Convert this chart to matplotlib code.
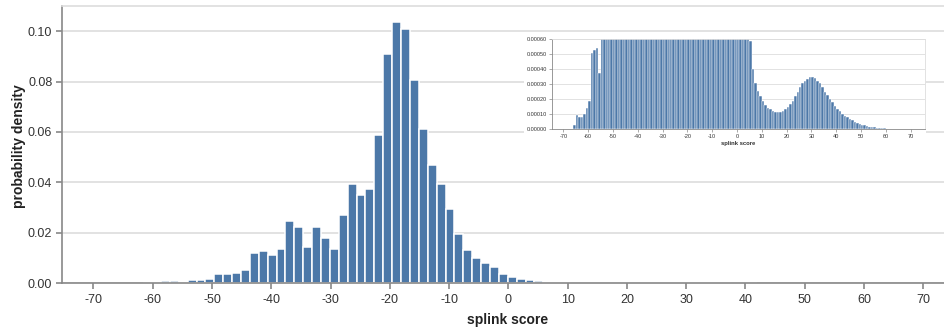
import numpy as np
import matplotlib
matplotlib.use("Agg")
import matplotlib.pyplot as plt
from matplotlib.patches import Rectangle
from matplotlib.ticker import FormatStrFormatter

plt.rcParams['font.family'] = ['Liberation Sans', 'DejaVu Sans']
plt.rcParams['axes.unicode_minus'] = False

# main histogram, bins 1.5 wide starting at -61.6
main_start = -61.6
main_width = 1.5
main_density = [
    0.00012, 0.0003,
    0.0008, 0.0008, 0.0005, 0.001, 0.001, 0.0016, 0.0034, 0.0034, 0.0041, 0.0053,
    0.0119, 0.0127, 0.011, 0.0134, 0.0246, 0.0222, 0.0143, 0.0222, 0.018, 0.0137,
    0.0269, 0.0392, 0.0348, 0.0375, 0.0587, 0.0911, 0.1037, 0.1008, 0.0808, 0.0613,
    0.047, 0.0395, 0.0293, 0.0196, 0.0133, 0.0099, 0.0081, 0.0064, 0.0037, 0.0024,
    0.0017, 0.0011, 0.0008, 0.0004, 0.0003, 0.00022, 0.00017, 0.00014, 0.00012, 0.00011,
    0.00011, 0.00012, 0.00014, 0.00017, 0.00021, 0.00026, 0.0003, 0.00033, 0.00034, 0.00034,
    0.00032, 0.00029, 0.00025, 0.00021, 0.00018, 0.00014, 0.0001,
]

# inset: same scores, 1 wide bins from -66, y axis cut at 0.0006
inset_start = -66
inset_width = 1
inset_density = [
    0.00003, 0.000093, 0.000078, 0.00008, 0.0001, 0.00014, 0.00019, 0.00051, 0.00053, 0.00054, 0.000375,
    # -55 .. 4 (above the cut)
    0.0008, 0.001, 0.001, 0.0011, 0.0015, 0.002, 0.0034, 0.0034, 0.0038, 0.0045,
    0.0055, 0.009, 0.012, 0.0127, 0.0118, 0.011, 0.0134, 0.019, 0.0246, 0.023,
    0.019, 0.0143, 0.02, 0.021, 0.018, 0.0137, 0.02, 0.028, 0.0392, 0.036,
    0.0348, 0.0375, 0.05, 0.0587, 0.085, 0.095, 0.1037, 0.1008, 0.09, 0.0808,
    0.0613, 0.052, 0.047, 0.0395, 0.033, 0.0293, 0.0196, 0.015, 0.0133, 0.0099,
    0.009, 0.0081, 0.0064, 0.0045, 0.0037, 0.0026, 0.002, 0.0015, 0.0011, 0.0008,
    # 5 .. 65
    0.00059, 0.000398, 0.000304, 0.000256, 0.00022, 0.000189, 0.00016, 0.000142, 0.000131, 0.000122,
    0.000116, 0.000113, 0.000116, 0.00012, 0.000131, 0.000144, 0.000167, 0.000189, 0.00022, 0.000249,
    0.000278, 0.000304, 0.000322, 0.000336, 0.000344, 0.000344, 0.000338, 0.000322, 0.000304, 0.000278,
    0.000249, 0.000224, 0.0002, 0.000178, 0.000156, 0.000136, 0.000118, 0.000102, 0.000089, 0.000078,
    0.000067, 0.000058, 0.000049, 0.000042, 0.000036, 0.000029, 0.000024, 0.00002, 0.000016, 0.000013,
    0.000011, 0.000009, 0.000007, 0.000006, 0.000004, 0.000003, 0.000003, 0.000002, 0.000002, 0.000001,
    0.000001,
]

x_ticks = list(range(-70, 71, 10))
main_yticks = [0.00, 0.02, 0.04, 0.06, 0.08, 0.10]
inset_yticks = [0.0, 0.0001, 0.0002, 0.0003, 0.0004, 0.0005, 0.0006]
x_title = 'splink score'
y_title = 'probability density'

BLUE = '#4c78a8'
GRID = '#dddddd'
AXIS = '#888888'
TEXT = '#333333'

W, H = 944, 329
fig = plt.figure(figsize=(W / 100, H / 100), dpi=100)

# ---- main chart
ax = fig.add_axes([62 / W, 1 - 283 / H, 882 / W, 277 / H])
edges = main_start + main_width * np.arange(len(main_density))
ax.bar(edges, main_density, width=main_width, align='edge', color=BLUE,
       edgecolor='white', linewidth=1.1, zorder=2)
ax.set_xlim(-75.3, 73.5)
ax.set_ylim(0, 0.11)
ax.set_xticks(x_ticks)
ax.set_yticks(main_yticks)
ax.yaxis.set_major_formatter(FormatStrFormatter('%.2f'))
ax.set_axisbelow(True)
ax.yaxis.grid(True, color=GRID, linewidth=1.2)
for side in ['left', 'bottom']:
    ax.spines[side].set_color(AXIS)
    ax.spines[side].set_linewidth(1.2)
ax.spines['top'].set_color(GRID)
ax.spines['top'].set_linewidth(1.2)
ax.spines['right'].set_visible(False)
ax.tick_params(direction='out', length=4, width=1.2, color=AXIS,
               labelsize=9, labelcolor=TEXT)
ax.tick_params(axis='x', pad=4)
ax.tick_params(axis='y', pad=3)
fig.text(508 / W, 1 - 320 / H, x_title, ha='center', va='center',
         fontsize=10, fontweight='bold', color='#222222')
fig.text(19 / W, 1 - 146 / H, y_title, ha='center', va='center', rotation=90,
         fontsize=10, fontweight='bold', color='#222222')

# white box behind the inset
ax.add_patch(Rectangle((524 / W, 1 - 152 / H), 402 / W, 118 / H,
                       transform=fig.transFigure, facecolor='white',
                       edgecolor='none', zorder=5, clip_on=False))

# ---- inset
ins = fig.add_axes([551.7 / W, 1 - 129 / H, (925 - 551.7) / W, 90 / H])
ins.set_zorder(6)
ins_edges = inset_start + inset_width * np.arange(len(inset_density))
ins.bar(ins_edges, inset_density, width=inset_width, align='edge', color=BLUE,
        edgecolor='white', linewidth=0.35, zorder=2)
ins.set_xlim(-74.7, 75.8)
ins.set_ylim(0, 0.0006)
ins.set_xticks(x_ticks)
ins.set_yticks(inset_yticks)
ins.yaxis.set_major_formatter(FormatStrFormatter('%.5f'))
ins.set_axisbelow(True)
ins.yaxis.grid(True, color=GRID, linewidth=0.6)
for side in ['left', 'bottom']:
    ins.spines[side].set_color(AXIS)
    ins.spines[side].set_linewidth(0.6)
for side in ['top', 'right']:
    ins.spines[side].set_color(GRID)
    ins.spines[side].set_linewidth(0.6)
ins.tick_params(direction='out', length=2, width=0.5, color=AXIS,
                labelsize=4, labelcolor=TEXT, pad=1.5)
ins.set_xlabel(x_title, fontsize=4.2, fontweight='bold', color=TEXT, labelpad=1.5)

fig.savefig('out.png', dpi=100)
